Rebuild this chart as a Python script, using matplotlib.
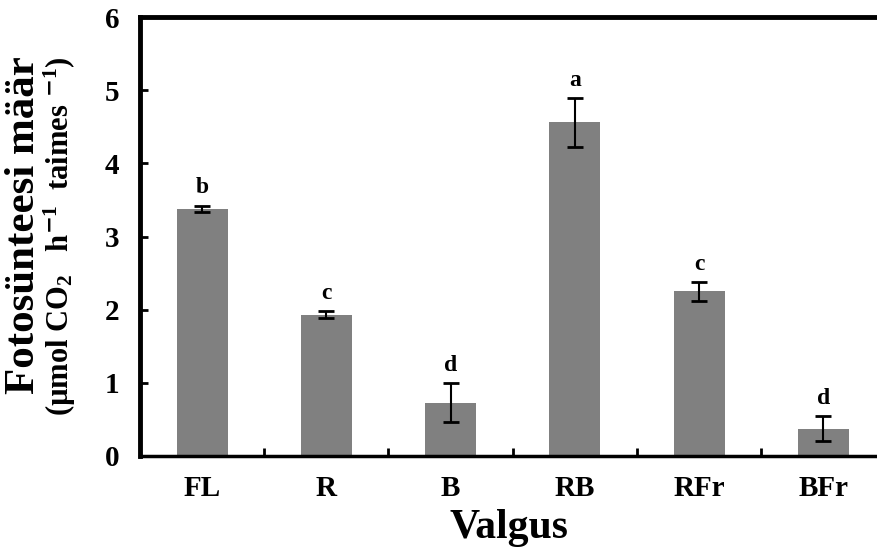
import matplotlib
matplotlib.use("Agg")
import matplotlib.pyplot as plt
import numpy as np

plt.rcParams['font.family'] = ['Liberation Serif', 'DejaVu Serif']
plt.rcParams['font.weight'] = 'bold'
plt.rcParams['mathtext.fontset'] = 'custom'
plt.rcParams['mathtext.rm'] = 'Liberation Serif:bold'
plt.rcParams['mathtext.default'] = 'rm'

categories = ['FL', 'R', 'B', 'RB', 'RFr', 'BFr']
values = [3.38, 1.93, 0.73, 4.56, 2.25, 0.37]
errors = [0.04, 0.05, 0.27, 0.33, 0.13, 0.17]
letters = ['b', 'c', 'd', 'a', 'c', 'd']

x = np.arange(len(categories))

fig = plt.figure(figsize=(8.78, 5.49), dpi=100)
ax = fig.add_axes([140/878, 1 - 456/549, 1 - 140/878, (456 - 17)/549])

ax.bar(x, values, width=0.41, color='#808080')
ax.errorbar(x, values, yerr=errors, fmt='none', ecolor='black',
            elinewidth=1.5, capsize=5.5, capthick=2)

for xi, v, e, l in zip(x, values, errors, letters):
    ax.text(xi, v + e + 0.1, l, ha='center', va='bottom', fontsize=17, fontweight='bold')

ax.set_xlim(-0.5, 5.44)
ax.set_ylim(0, 6)
ax.set_yticks(range(7))
ax.set_xticks(x)
ax.set_xticklabels(categories)
ax.set_xticks(x[:-1] + 0.5, minor=True)

ax.tick_params(axis='y', direction='in', length=6, width=2, pad=15, labelsize=21)
ax.tick_params(axis='x', which='major', length=0, pad=14, labelsize=21)
ax.tick_params(axis='x', which='minor', direction='in', length=6, width=2)

ax.spines['right'].set_visible(False)
ax.spines['left'].set_linewidth(3.5)
ax.spines['top'].set_linewidth(3.5)
ax.spines['bottom'].set_linewidth(2.5)

ax.set_xlabel('Valgus', fontsize=30, fontweight='bold', labelpad=5)

# two-line y label, second line smaller
fig.text(24/878, 1 - 225/549, 'Fotosünteesi määr', rotation=90, ha='center', va='center',
         fontsize=31, fontweight='bold')
fig.text(60/878, 1 - 236/549, '(µmol CO$_2$   h$^{\\mathsf{-}1}$  taimes $^{\\mathsf{-}1}$)', rotation=90,
         ha='center', va='center', fontsize=22, fontweight='bold')

fig.savefig('out.png', dpi=100)
